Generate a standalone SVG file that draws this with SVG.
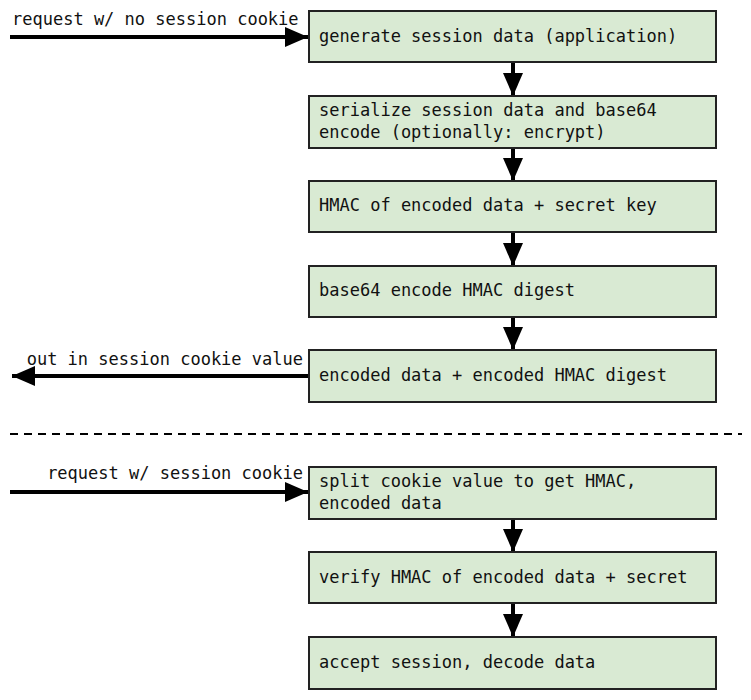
<svg xmlns="http://www.w3.org/2000/svg" width="751" height="700" viewBox="0 0 751 700">
<defs>
<marker id="ah" markerUnits="userSpaceOnUse" markerWidth="24" markerHeight="22" refX="23" refY="11" orient="auto">
<path d="M0,1 L23,11 L0,21 Z" fill="#000"/>
</marker>
<style>
.box{fill:#d9ead3;stroke:#222;stroke-width:2}
.t{font-family:"DejaVu Sans Mono","Liberation Mono",monospace;font-size:17px;fill:#111}
.c{stroke:#000;stroke-width:4;fill:none}
</style>
</defs>
<rect width="751" height="700" fill="#fff"/>
<g id="connectors">
<line class="c" x1="10" y1="37" x2="308" y2="37" marker-end="url(#ah)"/>
<line class="c" x1="309" y1="376" x2="12" y2="376" marker-end="url(#ah)"/>
<line class="c" x1="10" y1="492" x2="308" y2="492" marker-end="url(#ah)"/>
<line class="c" x1="513" y1="62" x2="513" y2="96" marker-end="url(#ah)"/>
<line class="c" x1="513" y1="148" x2="513" y2="181" marker-end="url(#ah)"/>
<line class="c" x1="513" y1="232" x2="513" y2="266" marker-end="url(#ah)"/>
<line class="c" x1="513" y1="317" x2="513" y2="350" marker-end="url(#ah)"/>
<line class="c" x1="513" y1="519" x2="513" y2="552" marker-end="url(#ah)"/>
<line class="c" x1="513" y1="603" x2="513" y2="637" marker-end="url(#ah)"/>
<line x1="10" y1="434" x2="742" y2="434" stroke="#000" stroke-width="2" stroke-dasharray="8,6"/>
<text class="t" x="12" y="25">request w/ no session cookie</text>
<text class="t" x="303" y="365" text-anchor="end">out in session cookie value</text>
<text class="t" x="303" y="479" text-anchor="end">request w/ session cookie</text>
</g>
<g id="n1"><rect class="box" x="309" y="11" width="407" height="51"/><text class="t" x="319" y="42">generate session data (application)</text></g>
<g id="n2"><rect class="box" x="309" y="96" width="407" height="52"/><text class="t" x="319" y="116">serialize session data and base64</text><text class="t" x="319" y="138">encode (optionally: encrypt)</text></g>
<g id="n3"><rect class="box" x="309" y="181" width="407" height="51"/><text class="t" x="319" y="211">HMAC of encoded data + secret key</text></g>
<g id="n4"><rect class="box" x="309" y="266" width="407" height="51"/><text class="t" x="319" y="296">base64 encode HMAC digest</text></g>
<g id="n5"><rect class="box" x="309" y="350" width="407" height="52"/><text class="t" x="319" y="381">encoded data + encoded HMAC digest</text></g>
<g id="n6"><rect class="box" x="309" y="467" width="407" height="52"/><text class="t" x="319" y="487">split cookie value to get HMAC,</text><text class="t" x="319" y="509">encoded data</text></g>
<g id="n7"><rect class="box" x="309" y="552" width="407" height="51"/><text class="t" x="319" y="583">verify HMAC of encoded data + secret</text></g>
<g id="n8"><rect class="box" x="309" y="637" width="407" height="52"/><text class="t" x="319" y="668">accept session, decode data</text></g>
</svg>
